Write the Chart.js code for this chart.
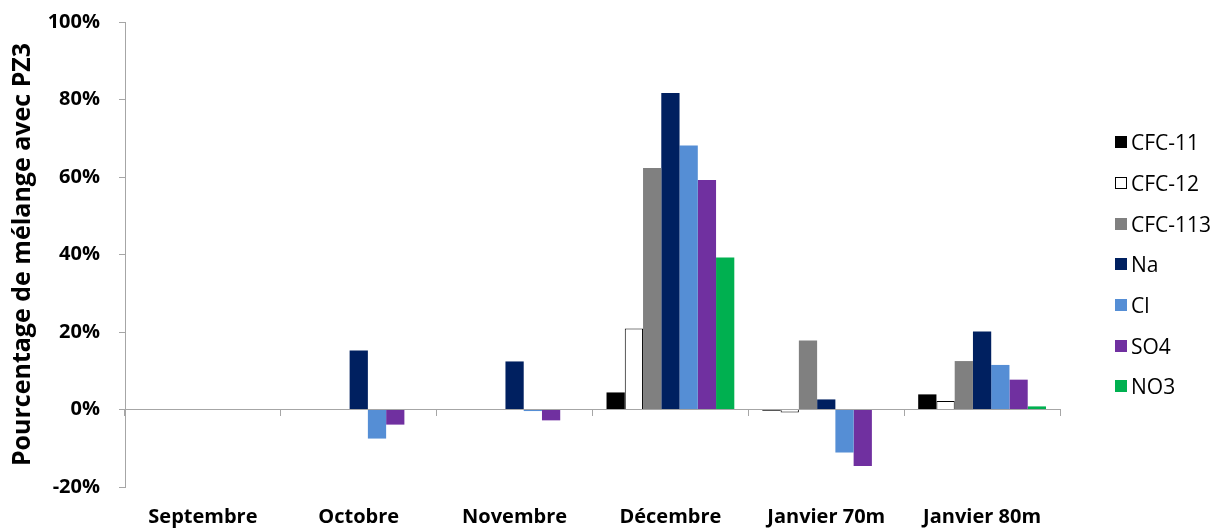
<!DOCTYPE html>
<html lang="fr">
<head>
<meta charset="utf-8">
<title>Pourcentage de mélange avec PZ3</title>
<script src="https://cdn.jsdelivr.net/npm/chart.js@4.4.1/dist/chart.umd.min.js"></script>
<style>
  html, body { margin: 0; padding: 0; background: #fff; }
  #wrap { position: relative; width: 1223px; height: 529px; }
  #legend {
    position: absolute; left: 1115px; top: 122px;
    font-family: "Open Sans", sans-serif; font-size: 21px; color: #000;
  }
  #legend .item { display: flex; align-items: center; height: 40.7px; white-space: nowrap; }
  #legend .box { width: 12px; height: 12px; box-sizing: border-box; margin-right: 4px; }
</style>
</head>
<body>
<div id="wrap">
  <canvas id="chart" width="1223" height="529"></canvas>
  <div id="legend"></div>
</div>
<script>
// catégories et séries (% de mélange avec PZ3)
const categories = ['Septembre', 'Octobre', 'Novembre', 'Décembre', 'Janvier 70m', 'Janvier 80m'];
const seriesNames = ['CFC-11', 'CFC-12', 'CFC-113', 'Na', 'Cl', 'SO4', 'NO3'];
const cfc11  = [null, null, null, 4.4, -0.3, 3.9];
const cfc12  = [null, null, null, 20.9, -0.8, 2.2];
const cfc113 = [null, null, null, 62.3, 17.8, 12.5];
const na     = [null, 15.2, 12.4, 81.7, 2.6, 20.1];
const cl     = [null, -7.5, -0.4, 68.1, -11.1, 11.5];
const so4    = [null, -3.9, -2.8, 59.2, -14.6, 7.7];
const no3    = [null, null, null, 39.2, 0, 0.8];
const yTicks = [-20, 0, 20, 40, 60, 80, 100];

const COLORS = {
  cfc11: '#000000',
  cfc12: '#FFFFFF',
  cfc113: '#808080',
  na: '#002060',
  cl: '#558ED5',
  so4: '#7030A0',
  no3: '#00B050',
  axis: '#A6A6A6',
};

const seriesValues = [cfc11, cfc12, cfc113, na, cl, so4, no3];
const seriesColors = [COLORS.cfc11, COLORS.cfc12, COLORS.cfc113, COLORS.na, COLORS.cl, COLORS.so4, COLORS.no3];

const datasets = seriesNames.map((name, i) => ({
  label: name,
  data: seriesValues[i],
  backgroundColor: seriesColors[i],
  borderColor: i === 1 ? '#000' : seriesColors[i],
  borderWidth: i === 1 ? 1 : 0,
  categoryPercentage: 0.82,
  barPercentage: 1.0,
}));

const tickFont = { family: '"Open Sans", sans-serif', size: 20, weight: 'bold' };

new Chart(document.getElementById('chart').getContext('2d'), {
  type: 'bar',
  data: { labels: categories, datasets },
  options: {
    responsive: false,
    animation: false,
    layout: { padding: { top: 0, right: 163, bottom: 0, left: 0 } },
    plugins: {
      legend: { display: false },
      tooltip: { enabled: false },
    },
    scales: {
      x: {
        afterFit: s => { s.height = 42; },
        grid: { display: false, drawTicks: false },
        border: { display: false },
        ticks: { color: '#000', font: tickFont, padding: 18, maxRotation: 0 },
      },
      // ligne du zéro avec les graduations entre catégories
      x0: {
        type: 'category',
        position: { y: 0 },
        offset: true,
        grid: { offset: true, drawOnChartArea: false, drawTicks: true, tickLength: 6, color: COLORS.axis },
        border: { display: true, color: COLORS.axis, width: 1 },
        ticks: { display: false },
      },
      y: {
        min: -20,
        max: 100,
        afterFit: s => { s.width = 125; s.paddingTop = 22; },
        afterBuildTicks: s => { s.ticks = yTicks.map(v => ({ value: v })); },
        grid: { drawOnChartArea: false, drawTicks: true, tickLength: 6, color: COLORS.axis },
        border: { color: COLORS.axis },
        ticks: { color: '#000', font: tickFont, padding: 19, callback: v => v + '%' },
        title: {
          display: true,
          text: 'Pourcentage de mélange avec PZ3',
          color: '#000',
          font: { family: '"Open Sans", sans-serif', size: 25, weight: 'bold' },
          padding: { top: 8, bottom: 0 },
        },
      },
    },
  },
});

// légende à droite
const legendEl = document.getElementById('legend');
seriesNames.forEach((name, i) => {
  const item = document.createElement('div');
  item.className = 'item';
  const box = document.createElement('span');
  box.className = 'box';
  box.style.background = seriesColors[i];
  if (i === 1) box.style.border = '1px solid #000';
  const txt = document.createElement('span');
  txt.textContent = name;
  item.appendChild(box);
  item.appendChild(txt);
  legendEl.appendChild(item);
});
</script>
</body>
</html>
